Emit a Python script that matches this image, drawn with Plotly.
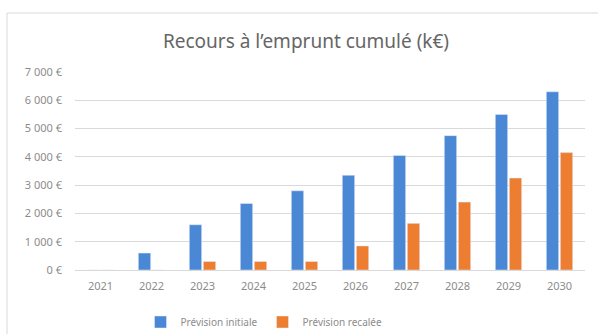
import plotly.graph_objects as go

years = ["2021", "2022", "2023", "2024", "2025", "2026", "2027", "2028", "2029", "2030"]
initiale = [0, 600, 1600, 2350, 2800, 3350, 4050, 4750, 5500, 6300]
recalee = [0, 0, 300, 300, 300, 850, 1650, 2400, 3250, 4150]
tick_vals = [0, 1000, 2000, 3000, 4000, 5000, 6000, 7000]
tick_text = ["0 €", "1 000 €", "2 000 €", "3 000 €", "4 000 €", "5 000 €", "6 000 €", "7 000 €"]

font_family = "Noto Sans, Open Sans, sans-serif"
grey = "#8c8c8c"

fig = go.Figure()
fig.add_trace(go.Bar(x=years, y=initiale, name="Prévision initiale", marker_color="#4a88d6"))
fig.add_trace(go.Bar(x=years, y=recalee, name="Prévision recalée", marker_color="#ed7d31"))

L, R, T, B = 75, 13, 72, 64
W, H = 598, 334
pw = W - L - R
ph = H - T - B

def px(x):
    return (x - L) / pw

def py(y):
    return (H - B - y) / ph

fig.update_layout(
    width=W, height=H,
    margin=dict(l=L, r=R, t=T, b=B, autoexpand=False),
    paper_bgcolor="white", plot_bgcolor="white",
    barmode="group", bargap=0.45, bargroupgap=0.12,
    title=dict(text="Recours à l’emprunt cumulé (k€)", x=306 / W, xanchor="center",
               y=1 - 41 / H, yanchor="middle",
               font=dict(family=font_family, size=19, color="#666666")),
    font=dict(family=font_family, size=10, color=grey),
    legend=dict(orientation="h", x=px(264), xanchor="center", y=py(322), yanchor="middle",
                font=dict(size=10, color=grey), itemwidth=30, traceorder="normal"),
    xaxis=dict(showgrid=False, showline=True, linecolor="#d9d9d9", linewidth=1,
               tickfont=dict(size=11, color=grey), ticks="", ticklabelstandoff=6),
    yaxis=dict(range=[0, 7000], tickvals=tick_vals, ticktext=tick_text,
               gridcolor="#d9d9d9", gridwidth=1, zeroline=False,
               tickfont=dict(size=11, color=grey), ticks="", ticklabelstandoff=12),
    shapes=[dict(type="rect", xref="paper", yref="paper",
                 x0=px(7), x1=px(600), y0=py(345), y1=py(13),
                 line=dict(color="#d9d9d9", width=1), fillcolor="rgba(0,0,0,0)", layer="below")],
)

fig.write_html("out.html")
